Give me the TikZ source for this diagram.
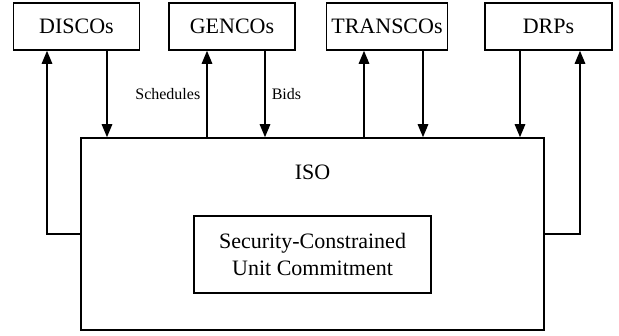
\documentclass[tikz,border=0pt]{standalone}
\usepackage{fontspec}
\setmainfont{Liberation Serif}
\usetikzlibrary{arrows.meta}

\tikzset{
  agent/.style={draw,line width=1.6pt,minimum width=126pt,minimum height=47pt,
    inner sep=0pt,font=\fontsize{22}{26}\selectfont},
  flow/.style={line width=1.5pt,-{Triangle[length=13pt,width=10.5pt]}},
  tag/.style={font=\fontsize{16}{18}\selectfont,inner sep=6pt}
}

\begin{document}
\begin{tikzpicture}[x=1pt,y=1pt]
  \useasboundingbox (0,0) rectangle (619,335);

  % Market participants
  \node[agent] (dis) at (76.5,308.5) {DISCOs};
  \node[agent] (gen) at (232,308.5) {GENCOs};
  \node[agent,minimum width=121pt] (tra) at (387,308.5) {TRANSCOs};
  \node[agent,minimum width=127pt] (drp) at (548.5,308.5) {DRPs};

  % ISO and the SCUC block
  \node[draw,line width=1.6pt,minimum width=463pt,minimum height=192pt,inner sep=0pt]
    (iso) at (312.5,101) {};
  \node[font=\fontsize{22}{26}\selectfont] (isoname) at (312.5,163) {ISO};
  \node[draw,line width=1.6pt,minimum width=237pt,minimum height=77pt,inner sep=0pt,
    align=center,font=\fontsize{22}{27}\selectfont] (scuc) at (312.5,80.5)
    {Security-Constrained\\Unit Commitment};

  % DISCOs
  \draw[flow] (iso.west) -| ([xshift=-29.5pt]dis.south);
  \draw[flow] ([xshift=30.5pt]dis.south) -- ([xshift=30.5pt]dis.south |- iso.north);

  % GENCOs
  \draw[flow] ([xshift=-25pt]gen.south |- iso.north) -- node[tag,left] {Schedules}
    ([xshift=-25pt]gen.south);
  \draw[flow] ([xshift=33pt]gen.south) -- node[tag,right] {Bids}
    ([xshift=33pt]gen.south |- iso.north);

  % TRANSCOs
  \draw[flow] ([xshift=-23pt]tra.south |- iso.north) -- ([xshift=-23pt]tra.south);
  \draw[flow] ([xshift=36pt]tra.south) -- ([xshift=36pt]tra.south |- iso.north);

  % DRPs
  \draw[flow] ([xshift=-28.5pt]drp.south) -- ([xshift=-28.5pt]drp.south |- iso.north);
  \draw[flow] (iso.east) -| ([xshift=31.5pt]drp.south);
\end{tikzpicture}
\end{document}
